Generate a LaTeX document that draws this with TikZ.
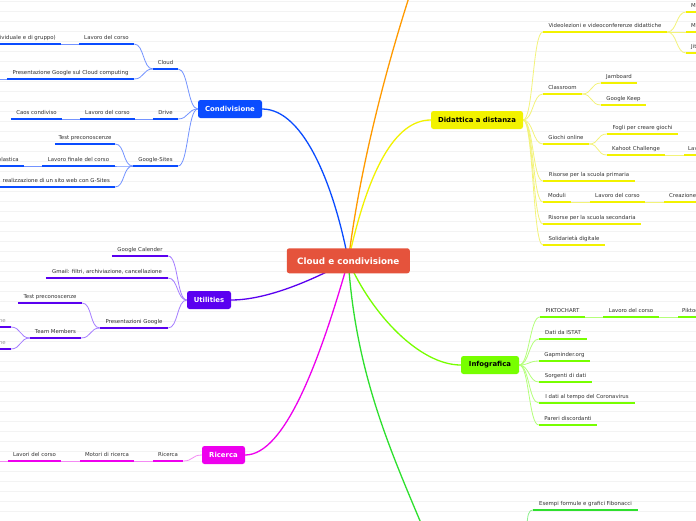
\documentclass[tikz,border=0pt]{standalone}
\usepackage{fontspec}
\setmainfont{DejaVu Sans}
\usepackage{tikz}
\usetikzlibrary{backgrounds}
\usepackage{xcolor}
\definecolor{rootRed}{HTML}{E5533C}
\definecolor{condBlue}{HTML}{0A4CFF}
\definecolor{condLine}{HTML}{7393FF}
\definecolor{utilPurple}{HTML}{5A00F0}
\definecolor{utilLine}{HTML}{A57DFF}
\definecolor{ricMagenta}{HTML}{EE00EE}
\definecolor{ricLine}{HTML}{F48AF4}
\definecolor{didaYellow}{HTML}{F2F200}
\definecolor{didaLine}{HTML}{F3F37A}
\definecolor{infoGreen}{HTML}{77FF00}
\definecolor{infoLine}{HTML}{B4FF7A}
\definecolor{fiboGreen}{HTML}{2EE02E}
\definecolor{fiboLine}{HTML}{8CF08C}
\definecolor{extraOrange}{HTML}{FF9A00}
\definecolor{leafText}{HTML}{333333}
\definecolor{memberGray}{HTML}{9A9A9A}
\definecolor{gridGray}{HTML}{F3F3F3}
\newcommand{\leaffont}{\fontsize{5.4}{6.5}\selectfont}
\newcommand{\branchfont}{\bfseries\fontsize{6.9}{8}\selectfont}
\newcommand{\rootfont}{\bfseries\fontsize{8.8}{10}\selectfont}
\tikzset{
    % mind map boxes
    rootbox/.style={rectangle,rounded corners=2.5pt,fill=rootRed,text=white,font=\rootfont,inner sep=0pt},
    branch/.style={rectangle,rounded corners=2.5pt,fill=#1,text=white,font=\branchfont,minimum height=18,inner sep=0pt},
    % underlined topics
    leaf/.style={anchor=south,inner xsep=0pt,inner ysep=3pt,text height=4pt,text depth=1.2pt,
        font=\leaffont,text=leafText,
        append after command={\pgfextra{\draw[#1,line width=2.4pt] (\tikzlastnode.south west) -- (\tikzlastnode.south east);}}},
    % connectors
    mainlink/.style={draw=#1,line width=1.3pt},
    sublink/.style={draw=#1,line width=0.8pt},
    gridline/.style={draw=gridGray,line width=0.6pt}
}

\begin{document}
\begin{tikzpicture}[x=1pt,y=-1pt]
    \useasboundingbox (0,0) rectangle (696,520);
    \clip (0,0) rectangle (696,520);
    \begin{scope}[on background layer]
        \fill[white] (0,0) rectangle (696,520);
        \foreach \gy in {1.7,11.7,...,521.7}
            \draw[gridline] (0,\gy) -- (696,\gy);
    \end{scope}

    % Central topic
    \node[rootbox,minimum width=123,minimum height=25] (root) at (348.3,260.8) {Cloud e condivisione};

    % Main topics
    \node[branch=condBlue,minimum width=64] (cond) at (230,109) {Condivisione};
    \node[branch=utilPurple,minimum width=44] (util) at (209,300) {Utilities};
    \node[branch=ricMagenta,minimum width=43] (ric) at (223.5,455) {Ricerca};
    \node[branch=didaYellow,minimum width=92,text=black] (dida) at (477,120) {Didattica a distanza};
    \node[branch=infoGreen,minimum width=58,text=black] (info) at (490,365) {Infografica};
    \coordinate (topBranch) at (412,-12);
    \coordinate (lowBranch) at (428,540);

    % Condivisione
    \node[leaf=condBlue,minimum width=25] (cloud) at (165.5,69) {Cloud};
    \node[leaf=condBlue,minimum width=55] (cloudWork) at (106.5,44) {Lavoro del corso};
    \node[leaf=condBlue,anchor=south east,inner xsep=5] (cloudGroup) at (61,44) {(individuale e di gruppo)};
    \node[leaf=condBlue,minimum width=127] (cloudPres) at (70.5,79) {Presentazione Google sul Cloud computing};
    \coordinate (cloudMore) at (-12,79);
    \node[leaf=condBlue,minimum width=25] (drive) at (165.5,119) {Drive};
    \node[leaf=condBlue,minimum width=55] (driveWork) at (107.5,119) {Lavoro del corso};
    \node[leaf=condBlue,minimum width=51] (driveCaos) at (36.5,119) {Caos condiviso};
    \node[leaf=condBlue,minimum width=45] (sites) at (155.5,166) {Google-Sites};
    \node[leaf=condBlue,minimum width=60] (sitesTest) at (85,144) {Test preconoscenze};
    \node[leaf=condBlue,minimum width=73] (sitesWork) at (78.5,166) {Lavoro finale del corso};
    \node[leaf=condBlue,anchor=south east,inner xsep=5] (sitesClass) at (24,166) {scolastica};
    \node[leaf=condBlue,anchor=south east,inner xsep=5] (sitesGuide) at (115,187) {realizzazione di un sito web con G-Sites};

    % Utilities
    \node[leaf=utilPurple,minimum width=56] (calendar) at (140,256) {Google Calender};
    \node[leaf=utilPurple,minimum width=122] (gmail) at (107,278) {Gmail: filtri, archiviazione, cancellazione};
    \node[leaf=utilPurple,minimum width=68] (slides) at (134,328) {Presentazioni Google};
    \node[leaf=utilPurple,minimum width=64] (slidesTest) at (50,303) {Test preconoscenze};
    \node[leaf=utilPurple,minimum width=51] (team) at (55.5,338) {Team Members};
    \node[leaf=utilPurple,anchor=south east,inner xsep=5,text=memberGray] (memberA) at (11,327) {Nome};
    \node[leaf=utilPurple,anchor=south east,inner xsep=5,text=memberGray] (memberB) at (11,349) {Nome};

    % Ricerca
    \node[leaf=ricMagenta,minimum width=30] (search) at (168,461) {Ricerca};
    \node[leaf=ricMagenta,minimum width=54] (engines) at (107,461) {Motori di ricerca};
    \node[leaf=ricMagenta,minimum width=53] (searchWork) at (34.5,461) {Lavori del corso};
    \coordinate (searchMore) at (-12,461);

    % Didattica a distanza
    \node[leaf=didaYellow,minimum width=124] (video) at (605,32) {Videolezioni e videoconferenze didattiche};
    \node[leaf=didaYellow,anchor=south west,inner xsep=5] (videoA) at (686,12) {Meet};
    \node[leaf=didaYellow,anchor=south west,inner xsep=5] (videoB) at (686,32) {Microsoft Teams};
    \node[leaf=didaYellow,anchor=south west,inner xsep=5] (videoC) at (686,53) {Jitsi Meet};
    \node[leaf=didaYellow,minimum width=39] (classroom) at (562.5,94) {Classroom};
    \node[leaf=didaYellow,minimum width=36] (jamboard) at (619,83) {Jamboard};
    \node[leaf=didaYellow,minimum width=45] (keep) at (623.5,105) {Google Keep};
    \node[leaf=didaYellow,minimum width=46] (games) at (566,144) {Giochi online};
    \node[leaf=didaYellow,minimum width=71] (gamesSheets) at (642.5,134) {Fogli per creare giochi};
    \node[leaf=didaYellow,minimum width=58] (kahoot) at (636,155) {Kahoot Challenge};
    \node[leaf=didaYellow,anchor=south west,inner xsep=4] (kahootWork) at (684,155) {Lavoro del corso};
    \node[leaf=didaYellow,minimum width=92] (primary) at (589,181) {Risorse per la scuola primaria};
    \node[leaf=didaYellow,minimum width=28] (forms) at (557,202) {Moduli};
    \node[leaf=didaYellow,minimum width=55] (formsWork) at (617.5,202) {Lavoro del corso};
    \node[leaf=didaYellow,anchor=south west,inner xsep=5] (formsMake) at (664,202) {Creazione di un modulo};
    \node[leaf=didaYellow,minimum width=98] (secondary) at (592,224) {Risorse per la scuola secondaria};
    \node[leaf=didaYellow,minimum width=62] (solidarity) at (574,245) {Solidarietà digitale};

    % Infografica
    \node[leaf=infoGreen,minimum width=45] (pikto) at (562.5,317) {PIKTOCHART};
    \node[leaf=infoGreen,minimum width=56] (piktoWork) at (631,317) {Lavoro del corso};
    \node[leaf=infoGreen,anchor=south west,inner xsep=4] (piktoMade) at (678,317) {Piktochart};
    \node[leaf=infoGreen,minimum width=48] (istat) at (563,339) {Dati da ISTAT};
    \node[leaf=infoGreen,minimum width=51] (gapminder) at (564.5,361) {Gapminder.org};
    \node[leaf=infoGreen,minimum width=53] (sources) at (565.5,382) {Sorgenti di dati};
    \node[leaf=infoGreen,minimum width=96] (corona) at (587,403) {I dati al tempo del Coronavirus};
    \node[leaf=infoGreen,minimum width=58] (opinions) at (568,425) {Pareri discordanti};

    % Fibonacci (branch below the frame)
    \node[leaf=fiboGreen,minimum width=105] (fibo) at (585.5,510) {Esempi formule e grafici Fibonacci};
    \coordinate (fiboIn) at (527,530);

    \begin{scope}[on background layer]
        % main branches
        \draw[mainlink=condBlue] (root.center) .. controls (335,190) and (305,109) .. (cond.east);
        \draw[mainlink=extraOrange] (root.center) .. controls (362,150) and (395,40) .. (topBranch);
        \draw[mainlink=didaYellow] (root.center) .. controls (368,170) and (395,120) .. (dida.west);
        \draw[mainlink=utilPurple] (root.center) .. controls (300,287) and (260,300) .. (util.east);
        \draw[mainlink=ricMagenta] (root.center) .. controls (320,360) and (285,455) .. (ric.east);
        \draw[mainlink=infoGreen] (root.center) .. controls (372,315) and (420,365) .. (info.west);
        \draw[mainlink=fiboGreen] (root.center) .. controls (356,380) and (395,460) .. (lowBranch);

        % Condivisione
        \draw[sublink=condLine] (cond.west) .. controls +(-10,0) and +(10,0) .. (cloud.south east);
        \draw[sublink=condLine] (cond.west) .. controls +(-10,0) and +(10,0) .. (drive.south east);
        \draw[sublink=condLine] (cond.west) .. controls +(-10,0) and +(10,0) .. (sites.south east);
        \draw[sublink=condLine] (cloud.south west) .. controls +(-10,0) and +(10,0) .. (cloudWork.south east);
        \draw[sublink=condLine] (cloud.south west) .. controls +(-10,0) and +(10,0) .. (cloudPres.south east);
        \draw[sublink=condLine] (cloudWork.south west) -- (cloudGroup.south east);
        \draw[sublink=condLine] (cloudPres.south west) -- (cloudMore);
        \draw[sublink=condLine] (drive.south west) -- (driveWork.south east);
        \draw[sublink=condLine] (driveWork.south west) -- (driveCaos.south east);
        \draw[sublink=condLine] (sites.south west) .. controls +(-10,0) and +(10,0) .. (sitesTest.south east);
        \draw[sublink=condLine] (sites.south west) .. controls +(-10,0) and +(10,0) .. (sitesWork.south east);
        \draw[sublink=condLine] (sites.south west) .. controls +(-10,0) and +(10,0) .. (sitesGuide.south east);
        \draw[sublink=condLine] (sitesWork.south west) -- (sitesClass.south east);

        % Utilities
        \draw[sublink=utilLine] (util.west) .. controls +(-10,0) and +(10,0) .. (calendar.south east);
        \draw[sublink=utilLine] (util.west) .. controls +(-10,0) and +(10,0) .. (gmail.south east);
        \draw[sublink=utilLine] (util.west) .. controls +(-10,0) and +(10,0) .. (slides.south east);
        \draw[sublink=utilLine] (slides.south west) .. controls +(-10,0) and +(10,0) .. (slidesTest.south east);
        \draw[sublink=utilLine] (slides.south west) .. controls +(-10,0) and +(10,0) .. (team.south east);
        \draw[sublink=utilLine] (team.south west) .. controls +(-10,0) and +(10,0) .. (memberA.south east);
        \draw[sublink=utilLine] (team.south west) .. controls +(-10,0) and +(10,0) .. (memberB.south east);

        % Ricerca
        \draw[sublink=ricLine] (ric.west) .. controls +(-10,0) and +(10,0) .. (search.south east);
        \draw[sublink=ricLine] (search.south west) -- (engines.south east);
        \draw[sublink=ricLine] (engines.south west) -- (searchWork.south east);
        \draw[sublink=ricLine] (searchWork.south west) -- (searchMore);

        % Didattica a distanza
        \draw[sublink=didaLine] (dida.east) .. controls +(10,0) and +(-10,0) .. (video.south west);
        \draw[sublink=didaLine] (dida.east) .. controls +(10,0) and +(-10,0) .. (classroom.south west);
        \draw[sublink=didaLine] (dida.east) .. controls +(10,0) and +(-10,0) .. (games.south west);
        \draw[sublink=didaLine] (dida.east) .. controls +(10,0) and +(-10,0) .. (primary.south west);
        \draw[sublink=didaLine] (dida.east) .. controls +(10,0) and +(-10,0) .. (forms.south west);
        \draw[sublink=didaLine] (dida.east) .. controls +(10,0) and +(-10,0) .. (secondary.south west);
        \draw[sublink=didaLine] (dida.east) .. controls +(10,0) and +(-10,0) .. (solidarity.south west);
        \draw[sublink=didaLine] (video.south east) .. controls +(10,0) and +(-10,0) .. (videoA.south west);
        \draw[sublink=didaLine] (video.south east) -- (videoB.south west);
        \draw[sublink=didaLine] (video.south east) .. controls +(10,0) and +(-10,0) .. (videoC.south west);
        \draw[sublink=didaLine] (classroom.south east) .. controls +(10,0) and +(-10,0) .. (jamboard.south west);
        \draw[sublink=didaLine] (classroom.south east) .. controls +(10,0) and +(-10,0) .. (keep.south west);
        \draw[sublink=didaLine] (games.south east) .. controls +(10,0) and +(-10,0) .. (gamesSheets.south west);
        \draw[sublink=didaLine] (games.south east) .. controls +(10,0) and +(-10,0) .. (kahoot.south west);
        \draw[sublink=didaLine] (kahoot.south east) -- (kahootWork.south west);
        \draw[sublink=didaLine] (forms.south east) -- (formsWork.south west);
        \draw[sublink=didaLine] (formsWork.south east) -- (formsMake.south west);

        % Infografica
        \draw[sublink=infoLine] (info.east) .. controls +(10,0) and +(-10,0) .. (pikto.south west);
        \draw[sublink=infoLine] (info.east) .. controls +(10,0) and +(-10,0) .. (istat.south west);
        \draw[sublink=infoLine] (info.east) .. controls +(10,0) and +(-10,0) .. (gapminder.south west);
        \draw[sublink=infoLine] (info.east) .. controls +(10,0) and +(-10,0) .. (sources.south west);
        \draw[sublink=infoLine] (info.east) .. controls +(10,0) and +(-10,0) .. (corona.south west);
        \draw[sublink=infoLine] (info.east) .. controls +(10,0) and +(-10,0) .. (opinions.south west);
        \draw[sublink=infoLine] (pikto.south east) -- (piktoWork.south west);
        \draw[sublink=infoLine] (piktoWork.south east) -- (piktoMade.south west);

        % Fibonacci
        \draw[sublink=fiboLine] (fiboIn) .. controls (527,514) and (529,510) .. (fibo.south west);
    \end{scope}
\end{tikzpicture}
\end{document}
